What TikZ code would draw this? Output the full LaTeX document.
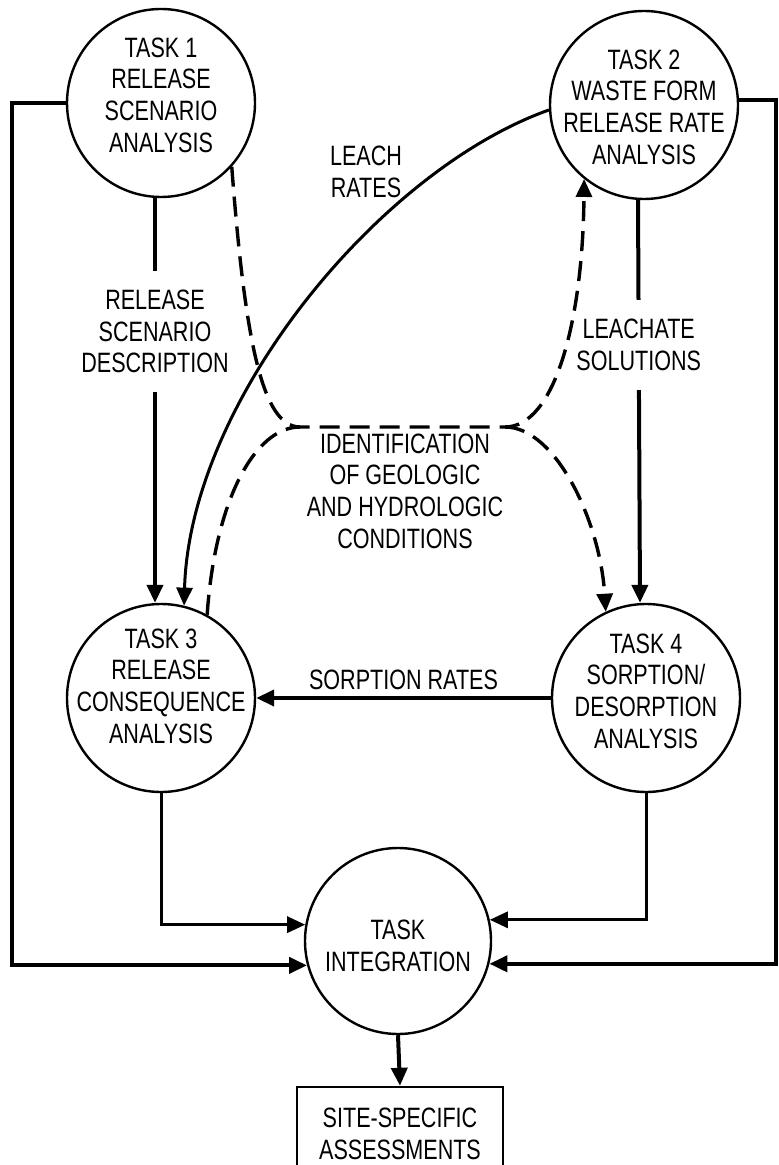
\documentclass[tikz,border=0pt]{standalone}
\usepackage{fontspec}
\setmainfont{Liberation Sans}[FakeStretch=0.77]
\usetikzlibrary{arrows.meta}

\begin{document}
\begin{tikzpicture}[x=0.5pt,y=-0.5pt,
    font=\fontsize{14}{15.8}\selectfont,
    task/.style={circle,draw,line width=1.2pt,minimum size=94pt,inner sep=0pt},
    tasktxt/.style={align=center,inner sep=0pt},
    lbl/.style={align=center},
    flow/.style={line width=2pt,-{Triangle[length=9pt,width=8pt]}},
    geo/.style={line width=1.7pt,dash pattern=on 10pt off 5pt},
  ]
  \useasboundingbox (0,0) rectangle (778,1165);
  % tasks
  \node[task,label={[tasktxt,yshift=4pt]center:TASK 1\\RELEASE\\SCENARIO\\ANALYSIS}] (t1) at (161,103) {};
  \node[task,label={[tasktxt,yshift=-1pt]center:TASK 2\\WASTE FORM\\RELEASE RATE\\ANALYSIS}] (t2) at (644,105) {};
  \node[task,label={[tasktxt,yshift=6pt]center:TASK 3\\RELEASE\\CONSEQUENCE\\ANALYSIS}] (t3) at (161,698) {};
  \node[task,label={[tasktxt,yshift=3.5pt]center:TASK 4\\SORPTION/\\DESORPTION\\ANALYSIS}] (t4) at (646,698) {};
  \node[task,minimum size=93pt,label={[tasktxt,yshift=-2.5pt]center:TASK\\INTEGRATION}] (ti) at (398,941) {};
  \node[draw,line width=1.2pt,minimum width=103pt,minimum height=47pt,align=center] (site) at (400,1134) {SITE-SPECIFIC\\ASSESSMENTS};

  % labels
  \node[lbl] (leach) at (366,172) {LEACH\\RATES};
  \node[lbl] (geol) at (405,491) {IDENTIFICATION\\OF GEOLOGIC\\AND HYDROLOGIC\\CONDITIONS};

  % solid flows
  \draw[flow] ([xshift=-3pt]t1.south) -- node[lbl,fill=white,inner ysep=9.5pt,pos=0.33] (rsd) {RELEASE\\SCENARIO\\DESCRIPTION} ([xshift=-3pt]t3.north);
  \draw[flow] ([xshift=-3pt]t2.south) -- node[lbl,fill=white,inner ysep=9.5pt,pos=0.36] (lsol) {LEACHATE\\SOLUTIONS} ([xshift=-3pt]t4.north);
  \draw[flow] (t4.west) -- node[above] (srate) {SORPTION RATES} (t3.east);
  \draw[flow,line width=1.5pt] (t2.183) .. controls (380,170) and (190,400) .. (t3.76);

  % dashed flows
  \coordinate (jl) at (300,427);
  \coordinate (jr) at (505,427);
  \draw[geo,-{Triangle[length=9pt,width=8pt]}] (t1.-42) .. controls (245,340) and (262,427) .. (jl) -- (jr) .. controls (555,427) and (583,320) .. (t2.-129);
  \draw[geo] (t3.61) .. controls (215,500) and (255,427) .. (jl);
  \draw[geo,-{Triangle[length=9pt,width=8pt]}] (jr) .. controls (555,427) and (600,520) .. (t4.115);

  % integration
  \coordinate (lft) at (12,0);
  \coordinate (rgt) at (776,0);
  \draw[flow] (t1.west) -| (lft |- ti.195) -- (ti.195);
  \draw[flow] (t2.3) -| (rgt |- ti.346) -- (ti.346);
  \draw[flow,line width=1.5pt] (t3.south) |- (ti.170);
  \draw[flow,line width=1.5pt] (t4.south) |- (ti.13);
  \draw[flow] (ti.south) -- (site.north);
\end{tikzpicture}
\end{document}
